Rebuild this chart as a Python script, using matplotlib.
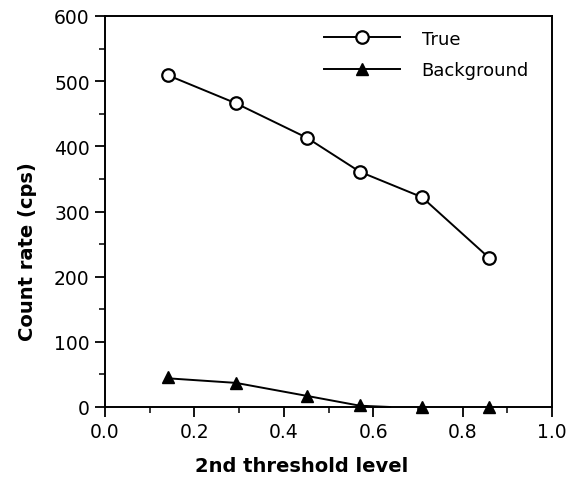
import matplotlib
matplotlib.use("Agg")
import matplotlib.pyplot as plt
from matplotlib.ticker import MultipleLocator

# data
thr = [0.141, 0.293, 0.452, 0.570, 0.709, 0.859]
true_rate = [509, 466, 413, 361, 322, 229]
bg_rate = [46, 37, 17, 3, 0, 0]
# background trend line stops a little past the 4th point
bg_line_x = [0.141, 0.293, 0.452, 0.570, 0.638]
bg_line_y = [44, 37, 17, 2, 0]

plt.rcParams['font.family'] = ['DejaVu Sans']

fig = plt.figure(figsize=(5.77, 4.85), dpi=100)
ax = fig.add_axes([105/577, 1-408/485, 447/577, 391/485])

ax.plot(thr, true_rate, '-', color='black', lw=1.4, marker='o', ms=9,
        markerfacecolor='white', markeredgewidth=1.6, label='True', clip_on=False)
ax.plot(bg_line_x, bg_line_y, '-', color='black', lw=1.4, clip_on=False)
ax.plot(thr, bg_rate, ' ', color='black', marker='^', ms=9, clip_on=False)
# legend handle for background (line + triangle)
ax.plot([], [], '-', color='black', lw=1.4, marker='^', ms=9, label='Background')

ax.set_xlim(0, 1.0)
ax.set_ylim(0, 600)
ax.xaxis.set_major_locator(MultipleLocator(0.2))
ax.xaxis.set_minor_locator(MultipleLocator(0.1))
ax.yaxis.set_major_locator(MultipleLocator(100))
ax.yaxis.set_minor_locator(MultipleLocator(50))
ax.set_xticklabels([f'{v:.1f}' for v in ax.get_xticks()])
ax.tick_params(which='major', direction='out', length=7, width=1.3, labelsize=13.5, pad=4)
ax.tick_params(which='minor', direction='out', length=4, width=1.1)
for s in ax.spines.values():
    s.set_linewidth(1.4)

ax.set_xlabel('2nd threshold level', fontsize=14, fontweight='bold')
ax.set_ylabel('Count rate (cps)', fontsize=14, fontweight='bold')
ax.xaxis.set_label_coords(0.44, -0.125)
ax.yaxis.set_label_coords(-0.153, 0.40)

ax.legend(loc='upper left', bbox_to_anchor=(0.49, 0.965), frameon=False, fontsize=13,
          handlelength=4.2, labelspacing=0.75, borderaxespad=0, handletextpad=1.2,
          borderpad=0)

fig.savefig('out.png', dpi=100)
